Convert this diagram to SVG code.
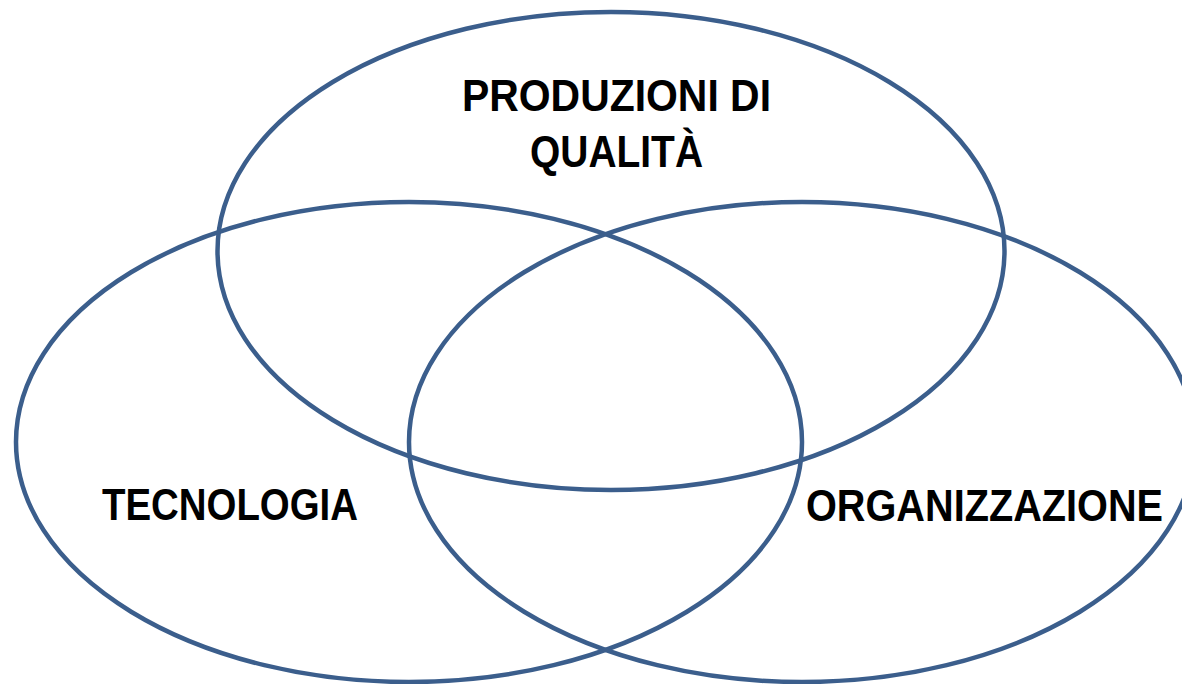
<svg xmlns="http://www.w3.org/2000/svg" width="1182" height="684" viewBox="0 0 1182 684">
<style>
.c{fill:none;stroke:#3B5E8C;stroke-width:4.5}
.t{font-family:"Liberation Sans",Arial,sans-serif;font-weight:bold;font-size:44px;fill:#000;text-anchor:middle}
</style>
<rect width="1182" height="684" fill="#fff"/>
<g id="connectors"/>
<g id="node-produzioni">
<ellipse class="c" cx="611" cy="251" rx="393.5" ry="239"/>
<text class="t" x="616.5" y="111" textLength="309" lengthAdjust="spacingAndGlyphs">PRODUZIONI DI</text>
<text class="t" x="616.5" y="167" textLength="173" lengthAdjust="spacingAndGlyphs">QUALITÀ</text>
</g>
<g id="node-tecnologia">
<ellipse class="c" cx="409" cy="442" rx="393" ry="240"/>
<text class="t" x="230" y="520" textLength="256" lengthAdjust="spacingAndGlyphs">TECNOLOGIA</text>
</g>
<g id="node-organizzazione">
<ellipse class="c" cx="802" cy="442" rx="393" ry="240"/>
<text class="t" x="984.5" y="521" textLength="357" lengthAdjust="spacingAndGlyphs">ORGANIZZAZIONE</text>
</g>
</svg>
